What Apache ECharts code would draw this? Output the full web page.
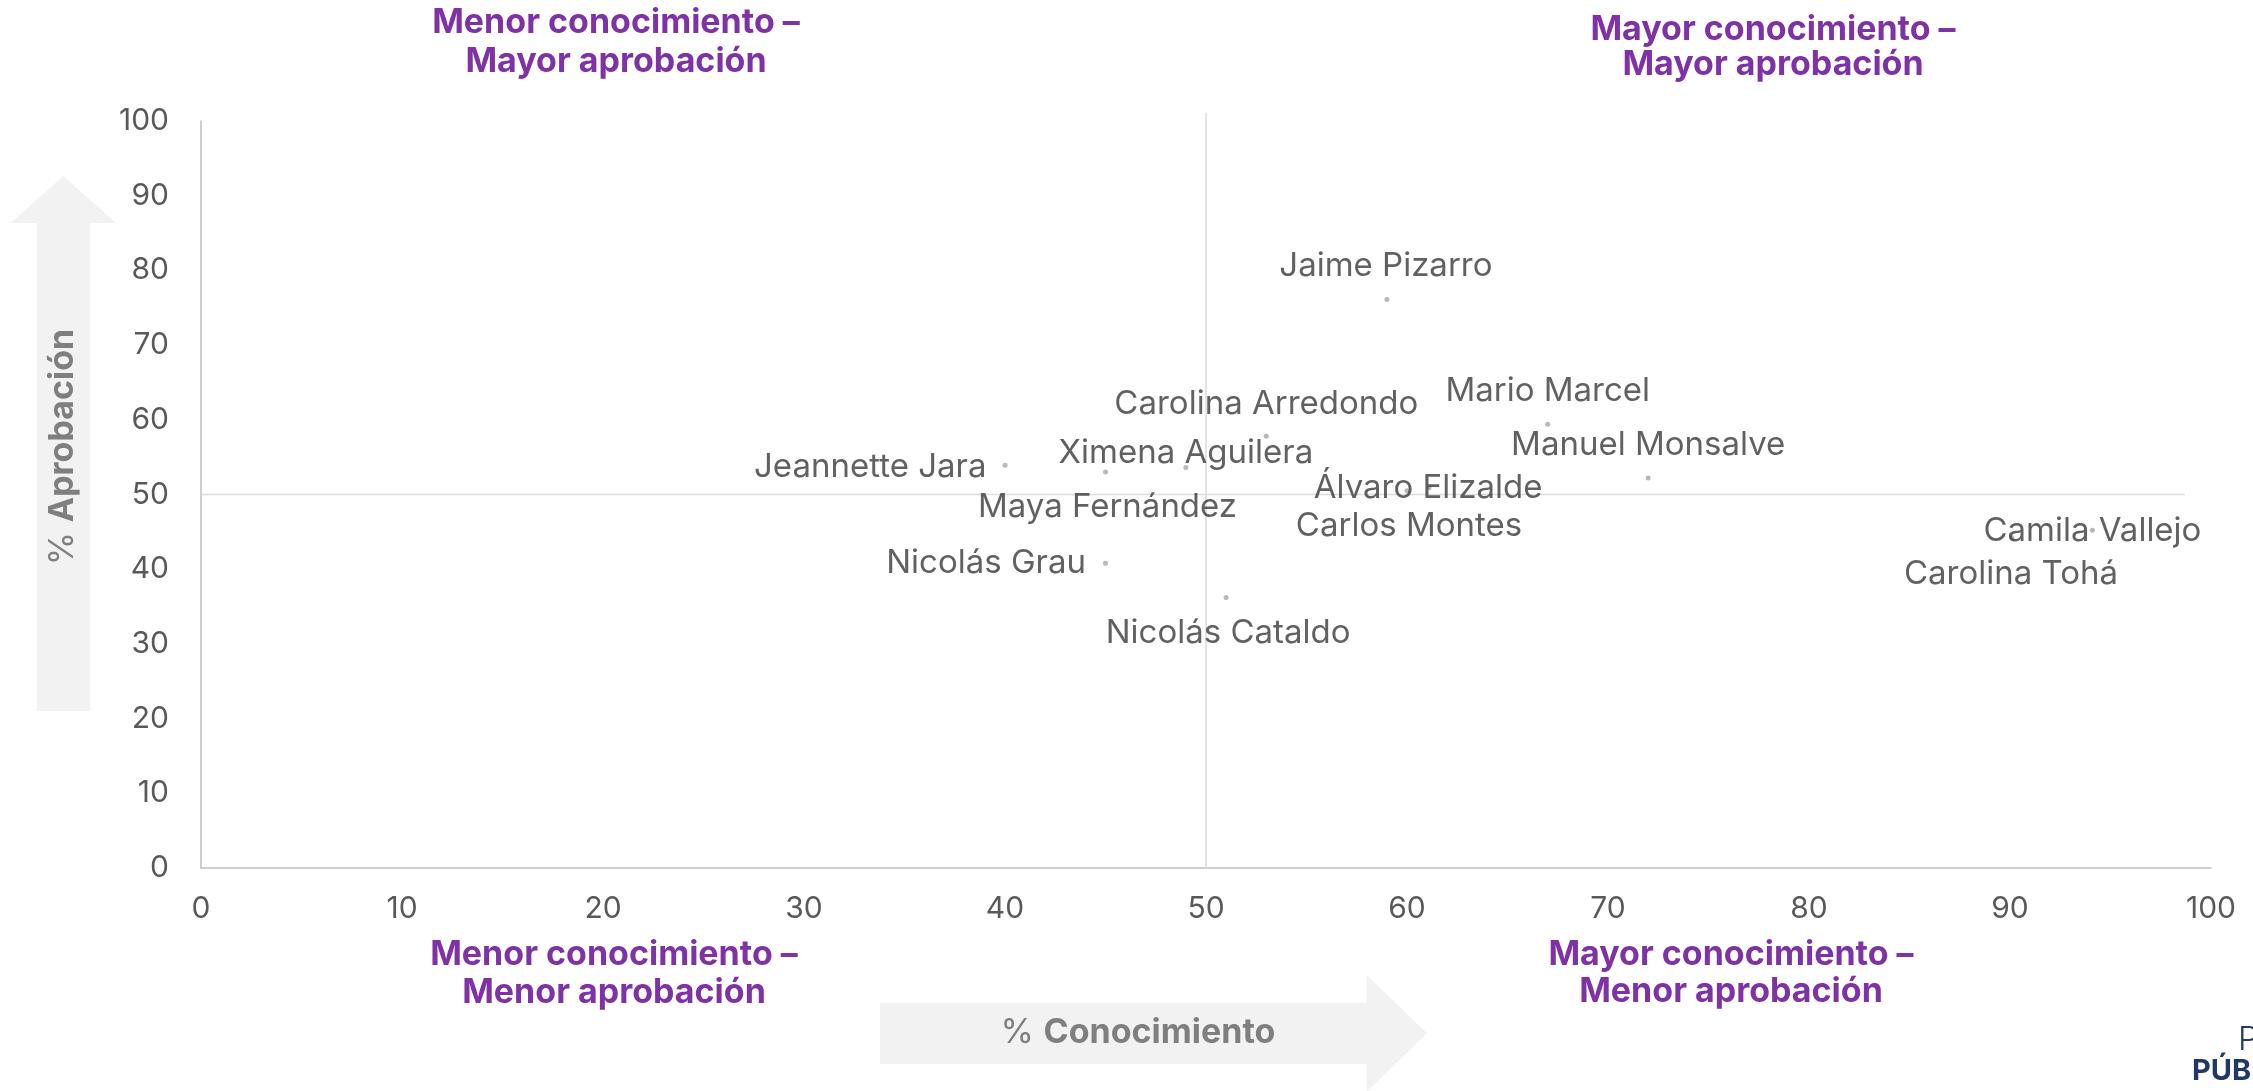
<!DOCTYPE html>
<html>
<head>
<meta charset="utf-8">
<script src="https://cdn.jsdelivr.net/npm/echarts@6/dist/echarts.min.js"></script>
<style>
  html, body { margin: 0; padding: 0; background: #ffffff; }
  #chart { width: 2253px; height: 1091px; }
</style>
</head>
<body>
<div id="chart"></div>
<script>
  // valores: % conocimiento (x) y % aprobación (y)
  const names = [
    "Jaime Pizarro", "Mario Marcel", "Carolina Arredondo", "Manuel Monsalve",
    "Ximena Aguilera", "Jeannette Jara", "Maya Fernández", "Álvaro Elizalde",
    "Carlos Montes", "Camila Vallejo", "Carolina Tohá", "Nicolás Grau", "Nicolás Cataldo",
  ];
  const knowledge = [59, 67, 53, 72, 49, 40, 45, 61.1, 60, 94.1, 90.1, 45, 51];
  const approval = [76.1, 59.4, 57.8, 52.2, 53.6, 53.9, 53.0, 50.9, 50.5, 45.2, 44.2, 40.8, 36.2];

  const xTicks = { min: 0, max: 100, interval: 10 };
  const yTicks = { min: 0, max: 100, interval: 10 };

  // líneas divisorias de cuadrantes
  const hDivider = [[0, 50], [98.7, 50]];
  const vDivider = [[50, 0], [50, 101.1]];

  const quadrantTitles = [
    ["Menor conocimiento –", "Mayor aprobación"],
    ["Mayor conocimiento –", "Mayor aprobación"],
    ["Menor conocimiento –", "Menor aprobación"],
    ["Mayor conocimiento –", "Menor aprobación"],
  ];

  const PURPLE = "#7f31a6";
  const FONT = "Inter, 'Noto Sans', sans-serif";

  // posición de cada etiqueta respecto a su punto (solo estilo)
  const labelPlacement = {
    "Jaime Pizarro": { position: "inside", offset: [-1, -33] },
    "Mario Marcel": { position: "inside", offset: [0, -33] },
    "Carolina Arredondo": { position: "inside", offset: [0, -32] },
    "Manuel Monsalve": { position: "inside", offset: [0, -33] },
    "Ximena Aguilera": { position: "inside", offset: [0, -15] },
    "Jeannette Jara": { position: "left", distance: 16, offset: [0, 2] },
    "Maya Fernández": { position: "inside", offset: [2, 35] },
    "Álvaro Elizalde": { position: "inside", offset: [-1, 0] },
    "Carlos Montes": { position: "inside", offset: [2, 35] },
    "Camila Vallejo": { position: "inside", offset: [0, 1] },
    "Carolina Tohá": { position: "inside", offset: [-1, 36] },
    "Nicolás Grau": { position: "left", distance: 17, offset: [0, 0] },
    "Nicolás Cataldo": { position: "inside", offset: [2, 35] },
  };

  const points = names.map((name, i) => ({
    name,
    value: [knowledge[i], approval[i]],
    label: labelPlacement[name],
  }));

  function heading(lines, cx, y1, y2) {
    return lines.map((text, i) => ({
      type: "text",
      x: cx,
      y: i === 0 ? y1 : y2,
      style: {
        text,
        fill: PURPLE,
        font: "bold 34px " + FONT,
        align: "center",
        verticalAlign: "middle",
      },
    }));
  }

  const chart = echarts.init(document.getElementById("chart"));
  chart.setOption({
    animation: false,
    backgroundColor: "#ffffff",
    grid: { left: 201, right: 42, top: 121, bottom: 223, containLabel: false },
    xAxis: {
      type: "value",
      min: xTicks.min,
      max: xTicks.max,
      interval: xTicks.interval,
      axisLine: { show: true, lineStyle: { color: "#bfbfbf", width: 1.5 } },
      axisTick: { show: false },
      splitLine: { show: false },
      axisLabel: { color: "#595959", fontSize: 30, fontFamily: FONT, margin: 26 },
    },
    yAxis: {
      type: "value",
      min: yTicks.min,
      max: yTicks.max,
      interval: yTicks.interval,
      axisLine: { show: true, lineStyle: { color: "#bfbfbf", width: 1.5 } },
      axisTick: { show: false },
      splitLine: { show: false },
      axisLabel: { color: "#595959", fontSize: 30, fontFamily: FONT, margin: 32 },
    },
    series: [
      {
        type: "line",
        data: hDivider,
        symbol: "none",
        silent: true,
        clip: false,
        lineStyle: { color: "#dcdcdc", width: 1.6 },
        z: 1,
      },
      {
        type: "line",
        data: vDivider,
        symbol: "none",
        silent: true,
        clip: false,
        lineStyle: { color: "#dcdcdc", width: 1.6 },
        z: 1,
      },
      {
        type: "scatter",
        data: points,
        symbolSize: 5,
        itemStyle: { color: "#a6a6a6" },
        label: {
          show: true,
          formatter: "{b}",
          color: "#3a3a3a",
          fontSize: 33,
          fontFamily: FONT,
        },
        z: 3,
      },
    ],
    graphic: [
      // flecha vertical
      {
        type: "polygon",
        shape: {
          points: [[37, 711], [37, 223], [10.7, 223], [63.3, 176], [116, 223], [90, 223], [90, 711]],
        },
        style: { fill: "#f2f2f2" },
        z: 0,
      },
      {
        type: "text",
        x: 63,
        y: 447,
        rotation: Math.PI / 2,
        style: {
          text: "{r|% }{b|Aprobación}",
          align: "center",
          verticalAlign: "middle",
          rich: {
            r: { font: "normal 34px " + FONT, fill: "#7f7f7f" },
            b: { font: "bold 34px " + FONT, fill: "#7f7f7f" },
          },
        },
        z: 1,
      },
      // flecha horizontal
      {
        type: "polygon",
        shape: {
          points: [[880, 1002.7], [1366.7, 1002.7], [1366.7, 975], [1427, 1033.3], [1366.7, 1091.6], [1366.7, 1064], [880, 1064]],
        },
        style: { fill: "#f2f2f2" },
        z: 0,
      },
      {
        type: "text",
        x: 1138,
        y: 1033,
        style: {
          text: "{r|% }{b|Conocimiento}",
          align: "center",
          verticalAlign: "middle",
          rich: {
            r: { font: "normal 34px " + FONT, fill: "#7f7f7f" },
            b: { font: "bold 34px " + FONT, fill: "#7f7f7f" },
          },
        },
        z: 1,
      },
      ...heading(quadrantTitles[0], 616, 23, 62),
      ...heading(quadrantTitles[1], 1773, 30, 65),
      ...heading(quadrantTitles[2], 614, 955, 993),
      ...heading(quadrantTitles[3], 1731, 955, 992),
      // logo, cortado en el borde
      {
        type: "text",
        x: 2238,
        y: 1040,
        style: { text: "PLAZA", fill: "#1f3864", font: "300 33px " + FONT, align: "left", verticalAlign: "middle" },
      },
      {
        type: "text",
        x: 2192,
        y: 1071,
        style: { text: "PÚBLICA", fill: "#1f3864", font: "bold 29px " + FONT, align: "left", verticalAlign: "middle" },
      },
    ],
  });
</script>
</body>
</html>
